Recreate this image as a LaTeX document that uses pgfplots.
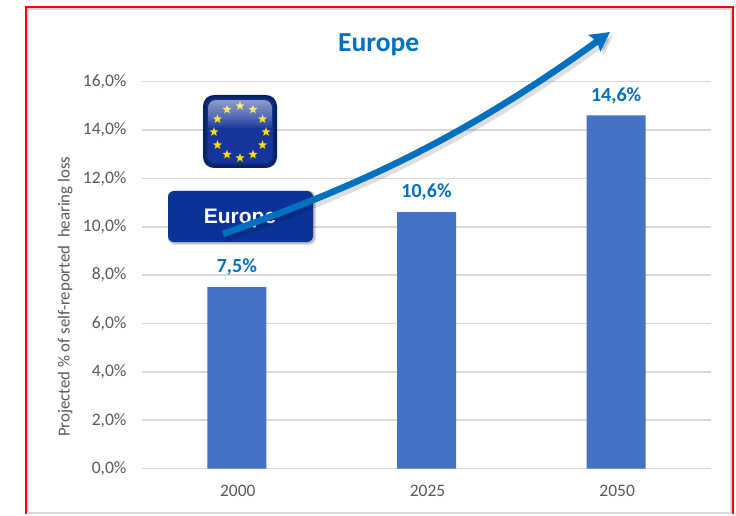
\documentclass[border=0pt]{standalone}
\usepackage{pgfplots}
\pgfplotsset{compat=1.18}
\usepackage{fontspec}
\setmainfont{Carlito}
\newfontfamily\btnfont{Liberation Sans}
\usetikzlibrary{arrows.meta,shapes.geometric}
\definecolor{barblue}{HTML}{4472C4}
\definecolor{accent}{HTML}{0070C0}
\definecolor{txtgray}{HTML}{595959}
\definecolor{gridgray}{HTML}{D9D9D9}
\definecolor{navy}{HTML}{07205F}
\definecolor{flagblue}{HTML}{16359A}
\definecolor{btnblue}{HTML}{0A3297}

\begin{document}
\begin{tikzpicture}[x=1pt,y=1pt]
\path[use as bounding box] (0,0) rectangle (736,515);

% outer frame
\draw[gridgray,line width=1.5pt] (28,2) -- (28,506) -- (731,506) -- (731,2) -- cycle;
\draw[red,line width=2pt] (26,1) -- (26,508) -- (733,508) -- (733,1);

\begin{axis}[
    at={(142pt,46.4pt)}, anchor=south west,
    scale only axis, width=569pt, height=387pt,
    xmin=-0.5, xmax=2.5, ymin=0, ymax=16,
    xtick=data, xticklabels={2000,2025,2050},
    ytick={0,2,...,16},
    yticklabel={\pgfmathprintnumber[fixed,fixed zerofill,precision=1,use comma,assume math mode=true]{\tick}\%},
    ticklabel style={font=\fontsize{17.5}{20}\selectfont, text=txtgray},
    major tick length=0pt,
    yticklabel style={xshift=-12pt},
    xticklabel style={yshift=-13pt,xshift=1pt},
    axis line style={draw=none},
    ymajorgrids, xmajorgrids=false,
    major grid style={gridgray,line width=1.7pt},
    ylabel={Projected \% of self-reported \ hearing loss},
    ylabel style={at={(axis description cs:-0.135,0.444)},anchor=center,
                  font=\fontsize{16.8}{20}\selectfont,text=txtgray},
    title={Europe},
    title style={at={(axis description cs:0.416,1.1)},anchor=center,yshift=-8pt,
                 font=\fontsize{27.5}{30}\selectfont\bfseries,text=accent},
    clip=false]
  \addplot[ybar, bar width=59pt, fill=barblue, draw=none, bar shift=0pt,
           nodes near coords={\pgfmathprintnumber[fixed,fixed zerofill,precision=1,use comma,assume math mode=true]{\pgfplotspointmeta}\%},
           every node near coord/.append style={font=\fontsize{20}{22}\selectfont\bfseries,text=accent,yshift=8pt}]
      coordinates {(0,7.5) (1,10.6) (2,14.6)};
\end{axis}

% overlays, in reference pixel coordinates
\begin{scope}[shift={(0,515)},yscale=-1]
  % flag badge
  \fill[navy,rounded corners=11pt] (203,95) rectangle (277,168);
  \begin{scope}
    \fill[navy!70!flagblue,rounded corners=10pt] (205,97) rectangle (275,166);
    \fill[navy!35!flagblue,rounded corners=9pt] (206.5,98.5) rectangle (273.5,164.5);
    \clip[rounded corners=8pt] (208,100) rectangle (272,163);
    \fill[flagblue] (208,100) rectangle (272,163);
    \foreach \a in {0,30,...,330}
      \node[star,star points=5,star point ratio=2.4,fill=yellow!80!orange,inner sep=0pt,minimum size=9.5pt]
        at ({240+26*sin(\a)},{132-26*cos(\a)}) {};
    \foreach \i in {1,...,14}
      \fill[white,opacity=0.05] (208,100) rectangle (272,{100+2*\i});
  \end{scope}
  % button
  \fill[black,opacity=0.12,rounded corners=7pt] (168,191) rectangle (316,245);
  \fill[black,opacity=0.18,rounded corners=6pt] (168,191) rectangle (314.5,243.5);
  \fill[btnblue,rounded corners=6pt] (168,191) rectangle (313,242);
  \node[text=white,font=\btnfont\fontsize{21}{24}\selectfont\bfseries] at (240,218.5) {Europe};
  % trend arrow with shadow
  \draw[black,opacity=0.13,line width=6.5pt,-{Stealth[inset=3pt,length=19pt,width=20pt]}]
    (226,238) .. controls (343,196) and (453,152) .. (613,36);
  \draw[accent,line width=6.5pt,-{Stealth[inset=3pt,length=19pt,width=20pt]}]
    (223,234) .. controls (340,192) and (450,148) .. (610,32);
\end{scope}
\end{tikzpicture}
\end{document}
